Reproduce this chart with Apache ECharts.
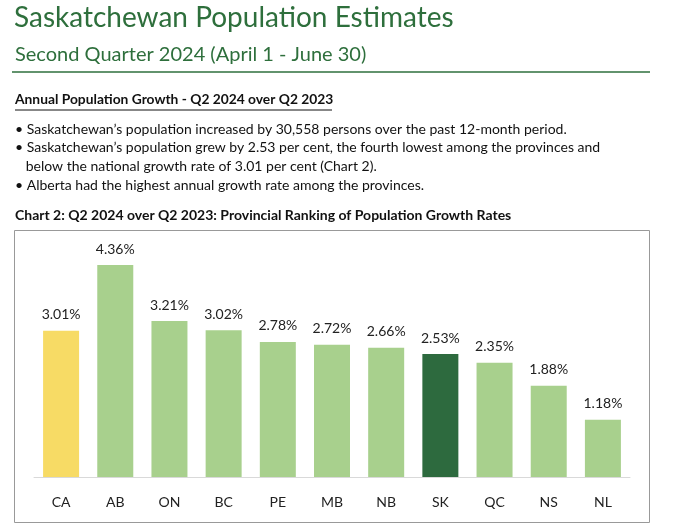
<!DOCTYPE html>
<html>
<head>
<meta charset="utf-8">
<script src="https://cdn.jsdelivr.net/npm/echarts@6/dist/echarts.min.js"></script>
<style>
  html, body { margin: 0; padding: 0; background: #fff; }
  #chart { width: 680px; height: 531px; }
</style>
</head>
<body>
<div id="chart"></div>
<script>
const provinces = ['CA', 'AB', 'ON', 'BC', 'PE', 'MB', 'NB', 'SK', 'QC', 'NS', 'NL'];
const growthRates = [3.01, 4.36, 3.21, 3.02, 2.78, 2.72, 2.66, 2.53, 2.35, 1.88, 1.18];
const bullets = [
  '• Saskatchewan’s population increased by 30,558 persons over the past 12-month period.',
  '• Saskatchewan’s population grew by 2.53 per cent, the fourth lowest among the provinces and',
  '   below the national growth rate of 3.01 per cent (Chart 2).',
  '• Alberta had the highest annual growth rate among the provinces.'
];

const FONT = 'Lato';
const barColor = (name) => name === 'CA' ? '#f7db65' : name === 'SK' ? '#2d6a3e' : '#a8d08d';

const chart = echarts.init(document.getElementById('chart'));

const graphics = [
  { type: 'text', left: 14, top: 4, style: { text: 'Saskatchewan Population Estimates', fill: '#2e6f3c', font: '28px ' + FONT } },
  { type: 'text', left: 15, top: 45, style: { text: 'Second Quarter 2024 (April 1 - June 30)', fill: '#2e6f3c', font: '20px ' + FONT } },
  { type: 'line', shape: { x1: 12, y1: 72, x2: 650, y2: 72 }, style: { stroke: '#2e6f3c', lineWidth: 1.5 } },
  { type: 'text', left: 15, top: 93, style: { text: 'Annual Population Growth - Q2 2024 over Q2 2023', fill: '#111', font: 'bold 13.8px ' + FONT } },
  { type: 'line', shape: { x1: 15, y1: 110, x2: 332, y2: 110 }, style: { stroke: '#111', lineWidth: 1 } },
  { type: 'text', left: 15, top: 208, style: { text: 'Chart 2: Q2 2024 over Q2 2023: Provincial Ranking of Population Growth Rates', fill: '#111', font: 'bold 14px ' + FONT } },
  { type: 'rect', shape: { x: 14.5, y: 230.5, width: 635, height: 292 }, style: { fill: 'none', stroke: '#999', lineWidth: 1 } }
];
bullets.forEach((t, i) => {
  graphics.push({ type: 'text', left: 15, top: 122 + i * 18.7, style: { text: t, fill: '#111', font: '14px ' + FONT } });
});

chart.setOption({
  animation: false,
  graphic: graphics,
  grid: { left: 34, right: 50, top: 234, bottom: 54 },
  xAxis: {
    type: 'category',
    data: provinces,
    axisLine: { lineStyle: { color: '#d9d9d9' } },
    axisTick: { show: false },
    axisLabel: { color: '#222', fontFamily: FONT, fontSize: 14, margin: 18 }
  },
  yAxis: { type: 'value', min: 0, max: 5, show: false, splitLine: { show: false } },
  series: [{
    type: 'bar',
    barWidth: 36,
    data: growthRates.map((v, i) => ({ value: v, itemStyle: { color: barColor(provinces[i]) } })),
    label: {
      show: true,
      position: 'top',
      distance: 9,
      color: '#222',
      fontFamily: FONT,
      fontSize: 14,
      formatter: (p) => p.value.toFixed(2) + '%'
    }
  }]
});
</script>
</body>
</html>
